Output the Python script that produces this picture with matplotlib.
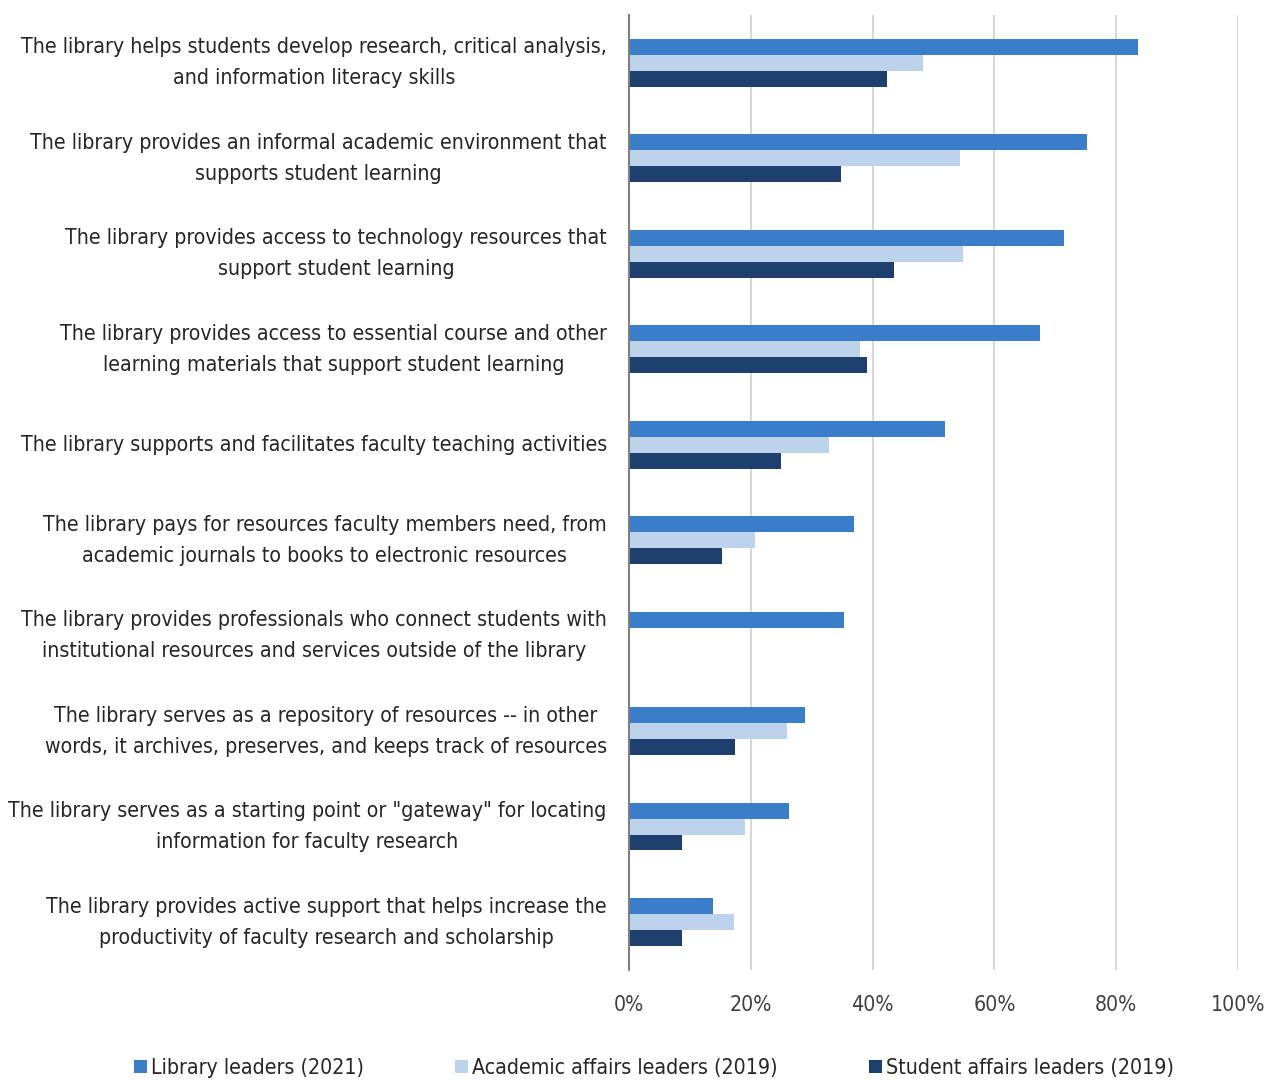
import matplotlib.pyplot as plt
from matplotlib import font_manager
import numpy as np

statements = [
    "The library helps students develop research, critical analysis,\nand information literacy skills",
    "The library provides an informal academic environment that\nsupports student learning",
    "The library provides access to technology resources that\nsupport student learning",
    "The library provides access to essential course and other\nlearning materials that support student learning",
    "The library supports and facilitates faculty teaching activities",
    "The library pays for resources faculty members need, from\nacademic journals to books to electronic resources",
    "The library provides professionals who connect students with\ninstitutional resources and services outside of the library",
    "The library serves as a repository of resources -- in other\nwords, it archives, preserves, and keeps track of resources",
    "The library serves as a starting point or \"gateway\" for locating\ninformation for faculty research",
    "The library provides active support that helps increase the\nproductivity of faculty research and scholarship",
]

library_2021 = [0.836, 0.752, 0.714, 0.675, 0.519, 0.369, 0.353, 0.289, 0.263, 0.138]
academic_2019 = [0.483, 0.544, 0.548, 0.379, 0.328, 0.207, np.nan, 0.259, 0.190, 0.172]
student_2019 = [0.424, 0.348, 0.435, 0.391, 0.250, 0.153, np.nan, 0.174, 0.087, 0.087]

series = [
    ("Library leaders (2021)", library_2021, "#3A7DC9"),
    ("Academic affairs leaders (2019)", academic_2019, "#BDD3EC"),
    ("Student affairs leaders (2019)", student_2019, "#1F3F6E"),
]


def pick_narrow_font():
    """Look for a condensed sans face; fall back to a smaller regular one."""
    fonts = font_manager.fontManager.ttflist
    for key in ("LiberationSansNarrow-Regular", "ArialNarrow", "DejaVuSansCondensed.",
                "NotoSans-Condensed.", "Roboto_Condensed-Regular", "RobotoCondensed-Regular",
                "OpenSans_Condensed-Regular", "OpenSans-CondensedRegular"):
        for f in fonts:
            if key.lower() in f.fname.replace(" ", "").lower():
                return font_manager.FontProperties(fname=f.fname), 15.3
    for f in fonts:
        if f.stretch in ("condensed", "semi-condensed") and f.style == "normal" \
                and f.weight in (400, "normal", "regular"):
            return font_manager.FontProperties(fname=f.fname), 15.3
    return font_manager.FontProperties(family="Liberation Sans"), 13


fp, size = pick_narrow_font()
fp.set_size(size)

fig = plt.figure(figsize=(12.7, 10.8), dpi=100)
ax = fig.add_axes([0.4953, 0.102, 0.4795, 0.884])

y = np.arange(len(statements))
h = 1 / 6
for k, (name, vals, color) in enumerate(series):
    ax.barh(y + (k - 1) * h, vals, height=h, color=color, label=name, zorder=3)

ticks = np.linspace(0, 1, 6)
ax.set_xlim(0, 1)
ax.set_ylim(len(statements) - 0.5, -0.5)
ax.set_xticks(ticks)
ax.set_xticklabels([f"{int(round(t * 100))}%" for t in ticks],
                   fontproperties=fp, color="#404040")
ax.set_yticks(y)
ax.set_yticklabels(statements, fontproperties=fp, color="#262626",
                   ha="right", va="center", multialignment="center", linespacing=1.68)
ax.tick_params(axis="y", length=0, pad=16)
ax.tick_params(axis="x", length=0, pad=18)

ax.grid(axis="x", color="#D0D0D0", linewidth=1.2, zorder=0)
for side in ["top", "right", "bottom"]:
    ax.spines[side].set_visible(False)
ax.spines["left"].set_color("#808080")
ax.spines["left"].set_linewidth(1.5)
ax.spines["left"].set_zorder(4)

leg = fig.legend(loc="center", bbox_to_anchor=(0.515, 0.011), ncol=3, frameon=False,
                 prop=fp, handlelength=0.6, handleheight=0.6, handletextpad=0.2,
                 columnspacing=4.3)
for t in leg.get_texts():
    t.set_color("#262626")

fig.savefig("out.png", dpi=100)
